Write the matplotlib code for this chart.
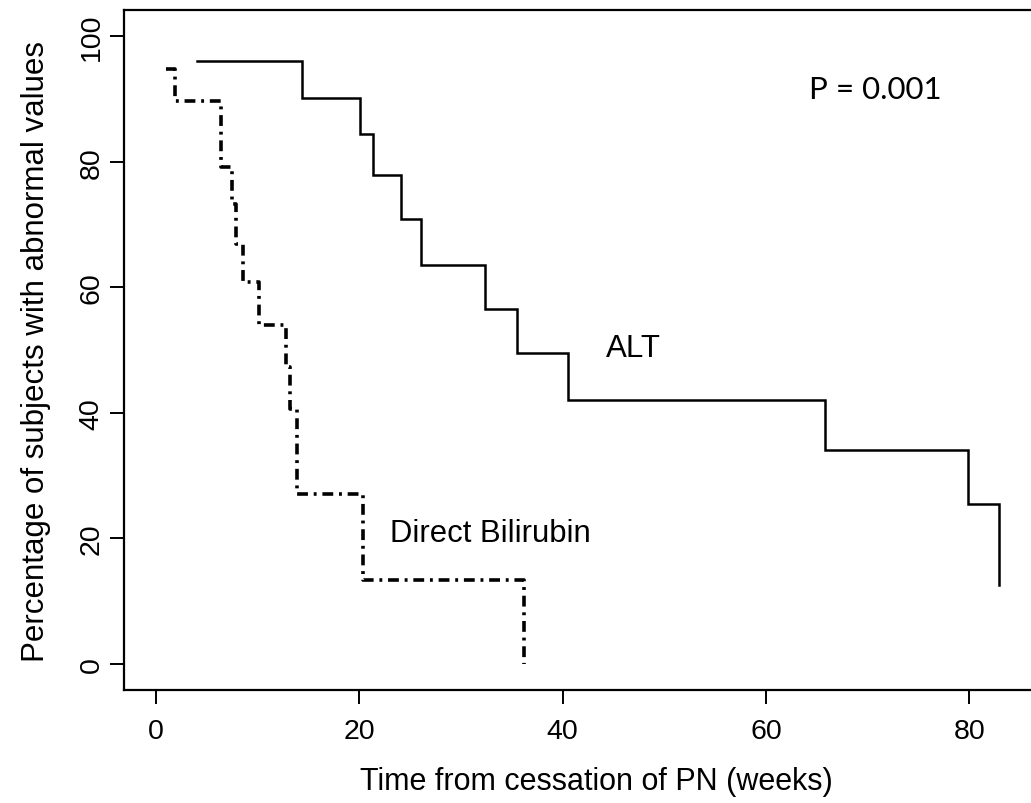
import matplotlib
matplotlib.use("Agg")
import matplotlib.pyplot as plt

# Kaplan-Meier style step curves
alt_weeks = [4.0, 14.4, 20.1, 21.3, 24.1, 26.1, 32.4, 35.5, 40.5, 65.8, 79.9, 82.9]
alt_pct = [96.0, 90.1, 84.4, 77.9, 70.9, 63.6, 56.6, 49.6, 42.1, 34.0, 25.4, 12.6]

bili_weeks = [1.0, 1.9, 6.4, 7.45, 7.85, 8.6, 10.1, 12.8, 13.2, 13.85, 20.4, 36.2]
bili_pct = [94.7, 89.6, 79.1, 73.2, 66.9, 60.8, 54.0, 47.3, 40.6, 27.1, 13.4, 0.0]

xticks = [0, 20, 40, 60, 80]
yticks = [0, 20, 40, 60, 80, 100]

plt.rcParams['font.family'] = ['Liberation Sans', 'DejaVu Sans']

fig = plt.figure(figsize=(10.31, 8.04), dpi=100)
ax = fig.add_axes([124 / 1031, 113 / 804, 944 / 1031, 680 / 804])

ax.plot(alt_weeks, alt_pct, drawstyle='steps-post', color='black', lw=1.8,
        solid_joinstyle='miter')
ax.plot(bili_weeks, bili_pct, drawstyle='steps-post', color='black', lw=2.6,
        dashes=(3, 1.6, 0.8, 1.6))

ax.set_xlim(-3.15, 89.7)
ax.set_ylim(-4.17, 104.17)
ax.set_xticks(xticks)
ax.set_yticks(yticks)
ax.set_yticklabels([str(v) for v in yticks], rotation=90, va='center')
ax.tick_params(axis='both', length=10, width=1.4, labelsize=20.5, direction='out')
ax.tick_params(axis='x', pad=10)
ax.tick_params(axis='y', pad=4)

for side in ['left', 'bottom', 'top']:
    ax.spines[side].set_linewidth(1.6)
ax.spines['right'].set_visible(False)

ax.set_xlabel('Time from cessation of PN (weeks)', fontsize=22, labelpad=16)
ax.set_ylabel('Percentage of subjects with abnormal values', fontsize=22.5, labelpad=20)

ax.text(44.3, 50.3, 'ALT', fontsize=22.5, va='center', ha='left')
ax.text(23.0, 20.9, 'Direct Bilirubin', fontsize=22.3, va='center', ha='left')
ax.text(64.2, 91.6, 'P = 0.001', fontsize=22.5, va='center', ha='left', family=['Lato', 'DejaVu Sans'])

fig.savefig('out.png', dpi=100)
